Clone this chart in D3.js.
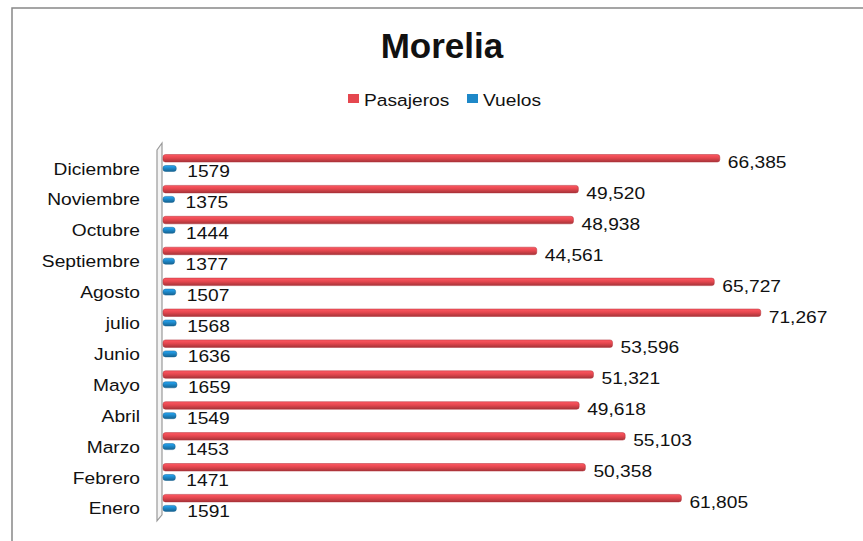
<!DOCTYPE html>
<html>
<head>
<meta charset="utf-8">
<script src="https://cdn.jsdelivr.net/npm/d3@7"></script>
<style>
  body { margin: 0; background: #fff; }
  svg text { font-family: "Liberation Sans", Arial, sans-serif; fill: #111; }
</style>
</head>
<body>
<div id="chart"></div>
<script>
// data, top to bottom as in the chart
const months = ["Diciembre", "Noviembre", "Octubre", "Septiembre", "Agosto", "julio",
  "Junio", "Mayo", "Abril", "Marzo", "Febrero", "Enero"];
const pasajeros = [66385, 49520, 48938, 44561, 65727, 71267, 53596, 51321, 49618, 55103, 50358, 61805];
const vuelos = [1579, 1375, 1444, 1377, 1507, 1568, 1636, 1659, 1549, 1453, 1471, 1591];
const seriesNames = ["Pasajeros", "Vuelos"];
const colors = ["#e5474f", "#1e88c8"];

const width = 863, height = 541;
const stretch = 1.13; // the original text is a bit wide

const svg = d3.select("#chart").append("svg")
  .attr("width", width)
  .attr("height", height);

// gradients for the 3d look
const defs = svg.append("defs");
function grad(id, c) {
  const g = defs.append("linearGradient").attr("id", id)
    .attr("x1", 0).attr("y1", 0).attr("x2", 0).attr("y2", 1);
  g.append("stop").attr("offset", "0%").attr("stop-color", d3.color(c).brighter(0.6));
  g.append("stop").attr("offset", "45%").attr("stop-color", c);
  g.append("stop").attr("offset", "100%").attr("stop-color", d3.color(c).darker(0.9));
}
grad("gRed", colors[0]);
grad("gBlue", colors[1]);

// outer frame
svg.append("rect")
  .attr("x", 12).attr("y", 8)
  .attr("width", 900).attr("height", 600)
  .attr("fill", "none")
  .attr("stroke", "#888")
  .attr("stroke-width", 1.5);

// title
svg.append("text")
  .attr("x", 442).attr("y", 58)
  .attr("text-anchor", "middle")
  .style("font-weight", "bold")
  .style("font-size", "35px")
  .text("Morelia");

// legend
const legend = svg.append("g");
const legendX = [348, 467];
seriesNames.forEach((name, i) => {
  legend.append("rect")
    .attr("x", legendX[i]).attr("y", 94)
    .attr("width", 11).attr("height", 9)
    .attr("fill", colors[i]);
  legend.append("text")
    .attr("transform", `translate(${legendX[i] + 16},106) scale(${stretch},1)`)
    .style("font-size", "17px")
    .text(name);
});

// scales
const y = d3.scaleBand()
  .domain(months)
  .range([150, 150 + 12 * 30.9])
  .padding(0);

const x = d3.scaleLinear()
  .domain([0, 80000])
  .range([163, 834]);

// 3d wall on the left
svg.append("path")
  .attr("d", `M157,${y.range()[0]} L162,${y.range()[0] - 7} L162,${y.range()[1] - 6} L157,${y.range()[1]} Z`)
  .attr("fill", "#f4f4f4")
  .attr("stroke", "#999")
  .attr("stroke-width", 1.2);

// category labels
svg.append("g").selectAll("text")
  .data(months)
  .enter()
  .append("text")
  .attr("transform", d => `translate(140,${y(d) + 24.5}) scale(${stretch},1)`)
  .attr("text-anchor", "end")
  .style("font-size", "17px")
  .text(d => d);

const rows = months.map((m, i) => ({ month: m, p: pasajeros[i], v: vuelos[i] }));

// Pasajeros bars
svg.append("g").selectAll("rect")
  .data(rows)
  .enter()
  .append("rect")
  .attr("x", x(0))
  .attr("y", d => y(d.month) + 4.5)
  .attr("width", d => x(d.p) - x(0))
  .attr("height", 7.5)
  .attr("rx", 2.5)
  .attr("fill", "url(#gRed)")
  .attr("stroke", "#b03038")
  .attr("stroke-width", 0.5);

// Vuelos bars
svg.append("g").selectAll("rect")
  .data(rows)
  .enter()
  .append("rect")
  .attr("x", x(0))
  .attr("y", d => y(d.month) + 15.5)
  .attr("width", d => x(d.v) - x(0))
  .attr("height", 6)
  .attr("rx", 2.5)
  .attr("fill", "url(#gBlue)")
  .attr("stroke", "#146090")
  .attr("stroke-width", 0.5);

// value labels
svg.append("g").selectAll("text")
  .data(rows)
  .enter()
  .append("text")
  .attr("transform", d => `translate(${x(d.p) + 8},${y(d.month) + 18}) scale(${stretch},1)`)
  .style("font-size", "17px")
  .text(d => d3.format(",")(d.p));

svg.append("g").selectAll("text")
  .data(rows)
  .enter()
  .append("text")
  .attr("transform", d => `translate(${x(d.v) + 11},${y(d.month) + 27}) scale(${stretch},1)`)
  .style("font-size", "17px")
  .text(d => d.v);
</script>
</body>
</html>
